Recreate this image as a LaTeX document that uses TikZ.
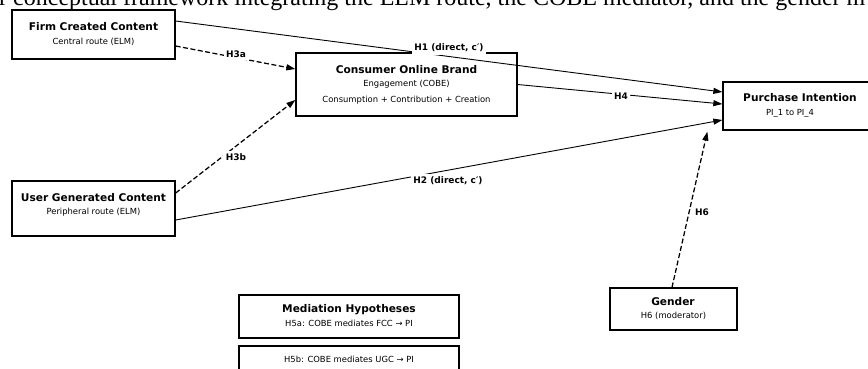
\documentclass[tikz,border=0pt]{standalone}
\usepackage{fontspec}
\setmainfont{DejaVu Sans}
\newfontfamily\titlefont{Liberation Serif}
\usetikzlibrary{arrows.meta}
\begin{document}
\begin{tikzpicture}[x=1pt,y=-1pt,
  box/.style={draw=black, line width=1.3pt, fill=white, inner sep=0pt},
  tt/.style={inner sep=0pt, font=\fontsize{10.6}{12}\selectfont\bfseries, text height=7.7pt, text depth=0pt},
  st/.style={inner sep=0pt, font=\fontsize{8.4}{10}\selectfont, text height=6.1pt, text depth=0pt},
  lab/.style={fill=white, inner xsep=2.5pt, inner ysep=2.5pt, font=\fontsize{9}{10}\selectfont\bfseries},
  conn/.style={line width=0.9pt, -{Triangle[length=9pt,width=6pt]}},
  dconn/.style={conn, line width=1.25pt, dash pattern=on 5pt off 2.5pt},
]
\useasboundingbox (0,0) rectangle (868,368);
\clip (0,0) rectangle (868,368);

% clipped title
\node[anchor=base west, inner sep=0pt, font=\titlefont\fontsize{24}{28}\selectfont] (title) at (-1,5)
  {r conceptual framework integrating the ELM route, the COBE mediator, and the gender m};

% boxes
\node[box, minimum width=163pt, minimum height=49pt] (fcc) at (93.5,34.5) {};
\node[box, minimum width=163pt, minimum height=55pt] (ugc) at (93.5,208.5) {};
\node[box, minimum width=221pt, minimum height=63pt] (cobe) at (406.5,84.5) {};
\node[box, minimum width=154pt, minimum height=48pt] (pi) at (800,106) {};
\node[box, minimum width=127pt, minimum height=42pt] (gender) at (673.5,309) {};
\node[box, minimum width=220pt, minimum height=43pt] (med) at (349,316.5) {};
\node[box, minimum width=220pt, minimum height=26pt] (hfive) at (349,359) {};

% box texts
\node[tt] (fcct) at (93.5,27) {Firm Created Content};
\node[st] (fccs) at (93.5,41.5) {Central route (ELM)};
\node[tt] (ugct) at (93.5,197.5) {User Generated Content};
\node[st] (ugcs) at (93.5,211) {Peripheral route (ELM)};
\node[tt] (cobet) at (406.5,70) {Consumer Online Brand};
\node[st] (cobes) at (406.5,83) {Engagement (COBE)};
\node[st] (cobec) at (406.5,99) {Consumption + Contribution + Creation};
\node[tt] (pit) at (800,98) {Purchase Intention};
\node[st] (pis) at (790,112) {PI\_1 to PI\_4};
\node[tt] (gent) at (673,302) {Gender};
\node[st] (gens) at (673.5,315) {H6 (moderator)};
\node[tt] (medt) at (349,309) {Mediation Hypotheses};
\node[st] (meds) at (349,323) {H5a: COBE mediates FCC → PI};
\node[st] (hfives) at (349,359) {H5b: COBE mediates UGC → PI};

% connectors
\coordinate (hsix) at ([xshift=-15pt,yshift=-1pt]pi.south west);
\draw[conn] ([yshift=13.5pt]fcc.east) -- ([yshift=14pt]pi.west);
\draw[conn] (cobe.east) -- ([yshift=2pt]pi.west);
\draw[conn] ([yshift=-11.5pt]ugc.east) -- ([yshift=-14pt]pi.west);
\draw[dconn] ([yshift=-11.5pt]fcc.east) -- ([yshift=15.5pt]cobe.west);
\draw[dconn] ([yshift=15.5pt]ugc.east) -- ([yshift=-15.5pt]cobe.west);
\draw[dconn] ([xshift=-1.5pt]gender.north) -- (hsix);

% connector labels
\node[lab] (l1) at (449,48) {H1 (direct, c′)};
\node[lab] (l2) at (448,181) {H2 (direct, c′)};
\node[lab] (l3a) at (236,54) {H3a};
\node[lab] (l3b) at (236,157) {H3b};
\node[lab] (l4) at (621,96) {H4};
\node[lab] (l6) at (702,212) {H6};
\end{tikzpicture}
\end{document}
